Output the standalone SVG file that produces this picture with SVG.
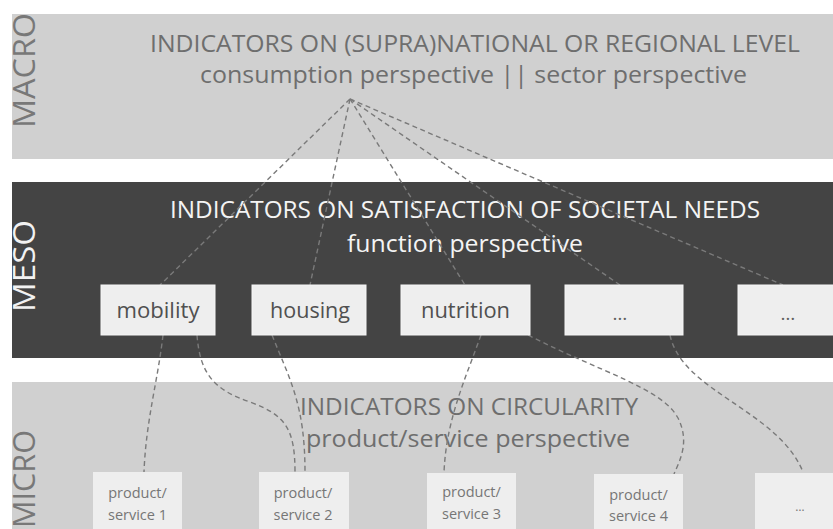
<svg xmlns="http://www.w3.org/2000/svg" width="833" height="529" viewBox="0 0 833 529">
  <style>
    text { font-family: "Open Sans", "Noto Sans", "Liberation Sans", sans-serif; }
    .band-light { fill: #d0d0d0; }
    .band-dark { fill: #444444; }
    .lvl-light { fill: #787878; font-size: 31px; }
    .lvl-dark { fill: #f2f2f2; font-size: 31px; }
    .title-light { fill: #6e6e6e; font-size: 24px; }
    .title-dark { fill: #f4f4f4; font-size: 23px; }
    .need { fill: #eeeeee; stroke: #f6f6f6; stroke-width: 1; }
    .need-label { fill: #505050; font-size: 21px; text-anchor: middle; }
    .item { fill: #eeeeee; }
    .item-label { fill: #767676; font-size: 14.5px; text-anchor: middle; }
    .dots { fill: #606060; font-size: 19px; text-anchor: middle; }
    .link { fill: none; stroke: #7a7a7a; stroke-width: 1.4; stroke-dasharray: 5 3.5; }
  </style>

  <rect width="833" height="529" fill="#ffffff"/>

  <!-- MACRO level -->
  <g id="macro">
    <rect class="band-light" x="12" y="14" width="821" height="145"/>
    <text class="lvl-light" transform="translate(35,128) rotate(-90)" textLength="115" lengthAdjust="spacingAndGlyphs">MACRO</text>
    <text class="title-light" x="150" y="52" textLength="650" lengthAdjust="spacingAndGlyphs">INDICATORS ON (SUPRA)NATIONAL OR REGIONAL LEVEL</text>
    <text class="title-light" x="200" y="83" textLength="547" lengthAdjust="spacingAndGlyphs">consumption perspective || sector perspective</text>
  </g>

  <!-- MESO level -->
  <g id="meso">
    <rect class="band-dark" x="12" y="182" width="821" height="176"/>
    <text class="lvl-dark" transform="translate(35,312) rotate(-90)" textLength="92" lengthAdjust="spacingAndGlyphs">MESO</text>
    <text class="title-dark" x="170" y="218" textLength="590" lengthAdjust="spacingAndGlyphs">INDICATORS ON SATISFACTION OF SOCIETAL NEEDS</text>
    <text class="title-dark" x="347" y="252" textLength="236" lengthAdjust="spacingAndGlyphs">function perspective</text>
  </g>

  <!-- MICRO level -->
  <g id="micro">
    <rect class="band-light" x="12" y="382" width="821" height="147"/>
    <text class="lvl-light" transform="translate(35,528) rotate(-90)" textLength="98" lengthAdjust="spacingAndGlyphs">MICRO</text>
    <text class="title-light" x="300" y="415" textLength="338" lengthAdjust="spacingAndGlyphs">INDICATORS ON CIRCULARITY</text>
    <text class="title-light" x="306" y="447" textLength="324" lengthAdjust="spacingAndGlyphs">product/service perspective</text>
  </g>

  <!-- dashed connectors -->
  <g id="connectors">
    <!-- macro hub to societal needs -->
    <path class="link" d="M350,99 L160,285"/>
    <path class="link" d="M350,99 L310,285"/>
    <path class="link" d="M350,99 L465,285"/>
    <path class="link" d="M350,99 L620,285"/>
    <path class="link" d="M350,99 L783,285"/>
    <!-- societal needs to products/services -->
    <path class="link" d="M163,335 C158,380 146,420 144,472"/>
    <path class="link" d="M197,335 C200,375 215,390 250,402 C285,415 295,428 295,472"/>
    <path class="link" d="M272,335 C290,380 305,405 305,472"/>
    <path class="link" d="M481,335 C465,380 446,420 444,473"/>
    <path class="link" d="M528,335 C600,372 662,388 678,418 C690,442 680,460 674,474"/>
    <path class="link" d="M670,335 C682,392 778,410 803,472"/>
  </g>

  <!-- societal needs -->
  <g id="need-mobility">
    <rect class="need" x="101" y="285" width="114" height="50"/>
    <text class="need-label" x="158" y="318" textLength="83" lengthAdjust="spacingAndGlyphs">mobility</text>
  </g>
  <g id="need-housing">
    <rect class="need" x="252" y="285" width="114" height="50"/>
    <text class="need-label" x="310" y="318" textLength="80" lengthAdjust="spacingAndGlyphs">housing</text>
  </g>
  <g id="need-nutrition">
    <rect class="need" x="401" y="285" width="129" height="50"/>
    <text class="need-label" x="465.5" y="318" textLength="89" lengthAdjust="spacingAndGlyphs">nutrition</text>
  </g>
  <g id="need-more-1">
    <rect class="need" x="565" y="285" width="118" height="50"/>
    <text class="dots" x="620" y="320">…</text>
  </g>
  <g id="need-more-2">
    <rect class="need" x="738" y="285" width="100" height="50"/>
    <text class="dots" x="788" y="320">…</text>
  </g>

  <!-- products / services -->
  <g id="item-1">
    <rect class="item" x="93" y="472" width="89" height="60"/>
    <text class="item-label" x="137.5" y="498">product/</text>
    <text class="item-label" x="137.5" y="520">service 1</text>
  </g>
  <g id="item-2">
    <rect class="item" x="259" y="472" width="90" height="60"/>
    <text class="item-label" x="303" y="498">product/</text>
    <text class="item-label" x="303" y="520">service 2</text>
  </g>
  <g id="item-3">
    <rect class="item" x="427" y="473" width="89" height="60"/>
    <text class="item-label" x="471.5" y="497">product/</text>
    <text class="item-label" x="471.5" y="519">service 3</text>
  </g>
  <g id="item-4">
    <rect class="item" x="594" y="474" width="89" height="60"/>
    <text class="item-label" x="638.5" y="500">product/</text>
    <text class="item-label" x="638.5" y="521">service 4</text>
  </g>
  <g id="item-more">
    <rect class="item" x="755" y="473" width="85" height="60"/>
    <text class="item-label" x="800" y="511" style="font-size:12px">…</text>
  </g>
</svg>
